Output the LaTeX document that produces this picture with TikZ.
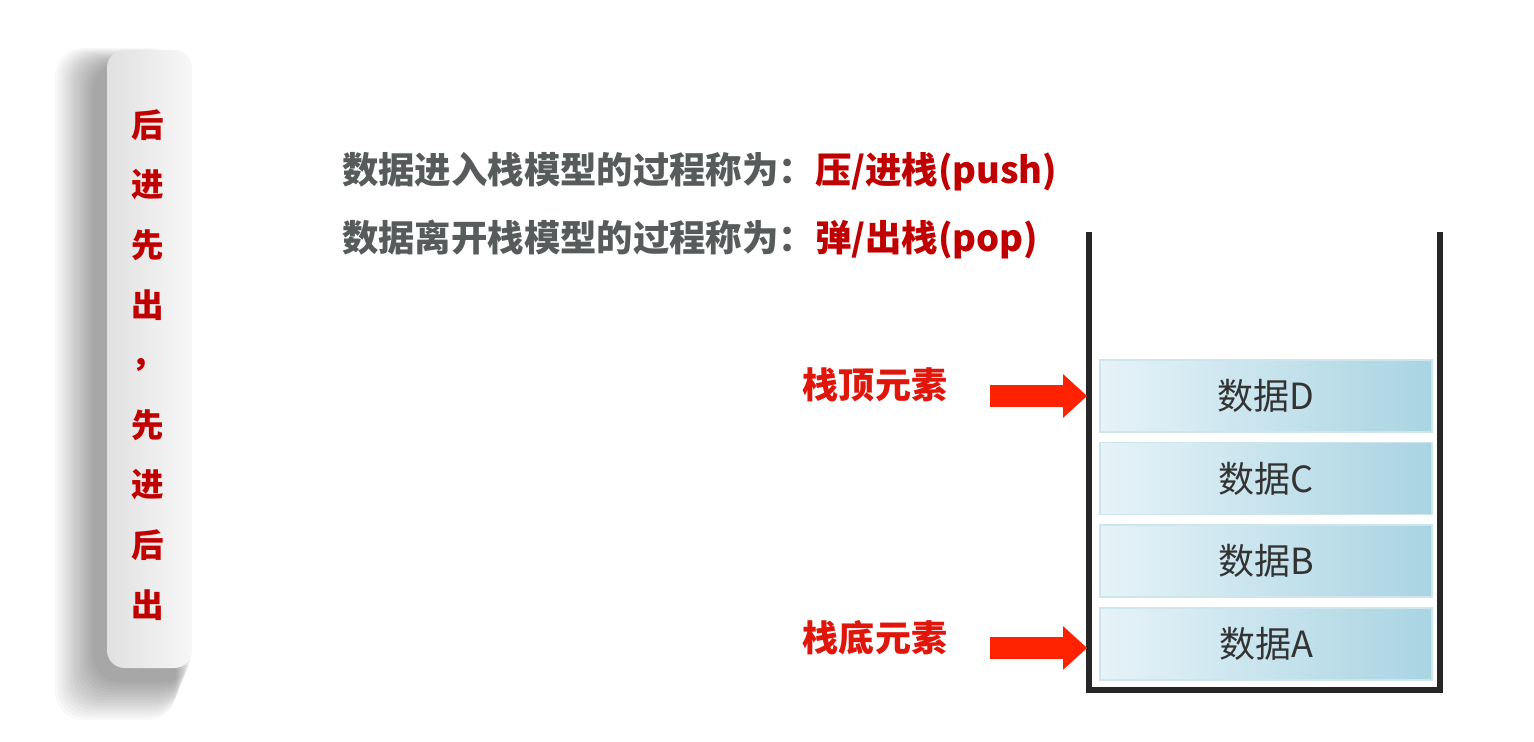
\documentclass[tikz,border=0pt]{standalone}
\usepackage{fontspec}
\setmainfont{Noto Sans CJK SC}
\usetikzlibrary{positioning,arrows.meta}
\definecolor{deepred}{HTML}{C00000}
\definecolor{labred}{HTML}{E0160A}
\definecolor{arrred}{HTML}{FF2200}
\definecolor{txtgray}{HTML}{575B5B}
\definecolor{boxlight}{HTML}{E6F3F8}
\definecolor{boxdark}{HTML}{A9D4E2}
\definecolor{boxline}{HTML}{CFE5EE}

\begin{document}
\begin{tikzpicture}[x=0.02cm,y=-0.02cm,
 side/.style={text=deepred,font=\fontsize{18.5}{20}\selectfont\bfseries},
 title/.style={anchor=west,text=txtgray,font=\fontsize{20.7}{24}\selectfont\bfseries},
 label/.style={text=labred,font=\fontsize{20.5}{24}\selectfont\bfseries},
 data/.style={draw=boxline,line width=1pt,left color=boxlight,right color=boxdark,
   minimum width=6.64cm,minimum height=1.44cm,text=black!80,
   font=\fontsize{20.5}{24}\selectfont},
 point/.style={draw=arrred,line width=0.44cm,
   -{Triangle[length=0.48cm,width=0.84cm]}},
 node distance=0.18cm]
 \useasboundingbox[fill=white] (0,0) rectangle (1534,742);
 \foreach \i in {1,...,16}
  \fill[black,opacity=0.022,rounded corners=16] (107-12-2.5*\i,50+14-\i) rectangle (192-\i,668+12+2.5*\i);
 \shade[left color=black!12,right color=black!3,rounded corners=10] (107,50) rectangle (192,668);
 \foreach \c [count=\i] in {后,进,先,出,，,先,进,后,出}
  \node[side] (s_\i) at (148,65+60*\i) {\c};

 \node[title] (push) at (336,172) {数据进入栈模型的过程称为：\textcolor{deepred}{压/进栈(push)}};
 \node[title] (pop) at (336,240) {数据离开栈模型的过程称为：\textcolor{deepred}{弹/出栈(pop)}};

 \draw[black!85,line width=3pt] (1089,232) -- (1089,690) -- (1440,690) -- (1440,232);
 \node[data] (d_a) at (1266,644) {数据A};
 \node[data] (d_b) [above=of d_a] {数据B};
 \node[data] (d_c) [above=of d_b] {数据C};
 \node[data] (d_d) [above=of d_c] {数据D};

 \node[label] (top) at (875,385) {栈顶元素};
 \node[label] (bottom) at (875,638) {栈底元素};
 \coordinate (t_top) at (990,396);
 \coordinate (t_bottom) at (990,648);
 \coordinate (h_top) at ([xshift=-0.24cm]d_d.west);
 \coordinate (h_bottom) at ([xshift=-0.24cm]d_a.west);
 \draw[point] (t_top) -- (t_top -| h_top);
 \draw[point] (t_bottom) -- (t_bottom -| h_bottom);
\end{tikzpicture}
\end{document}
